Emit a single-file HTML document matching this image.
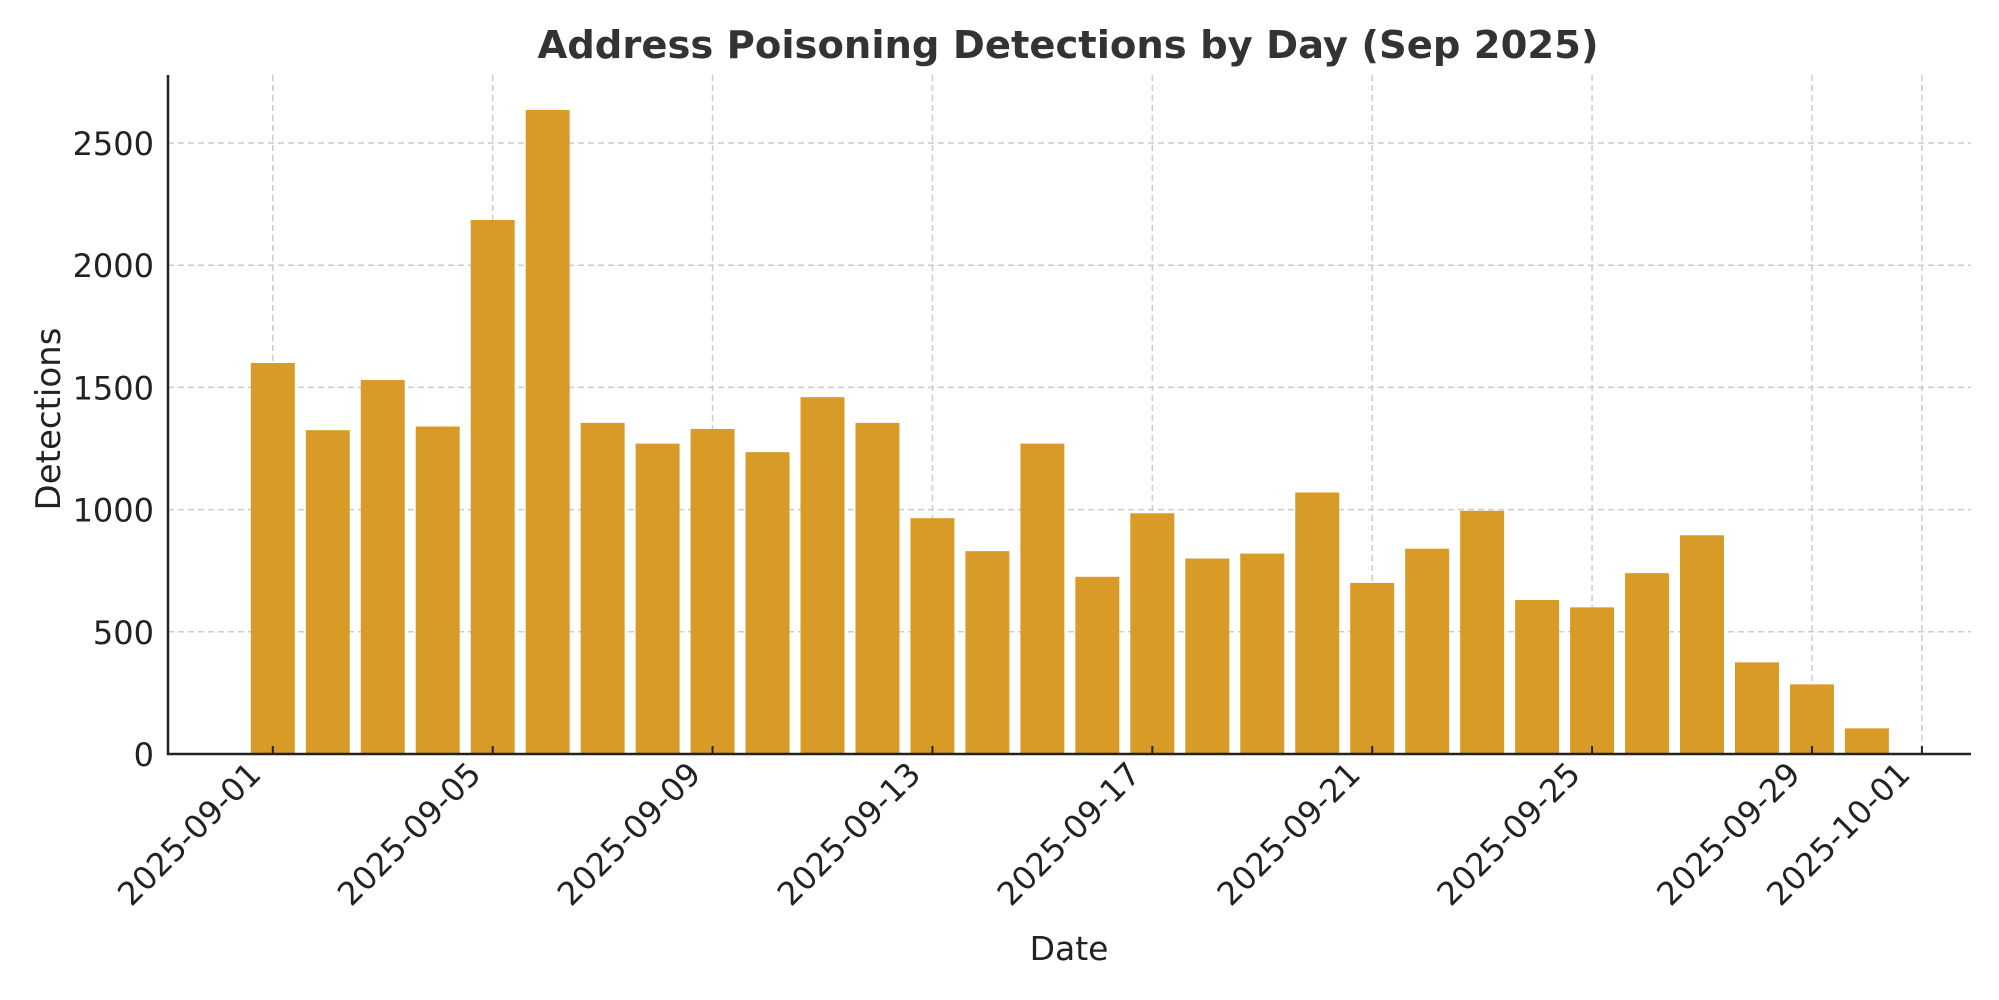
<!DOCTYPE html>
<html><head><meta charset="utf-8"><style>
html,body{margin:0;padding:0;background:#fff;}
svg{display:block;font-family:"DejaVu Sans","Liberation Sans",sans-serif;}
</style></head><body>
<svg id="chart" width="1999" height="1000" viewBox="0 0 1999 1000" xmlns="http://www.w3.org/2000/svg">
<text x="1068" y="58" text-anchor="middle" font-size="38.5" font-weight="bold" fill="#333">Address Poisoning Detections by Day (Sep 2025)</text>
<g id="grid"></g><g id="bars"></g><g id="axes"></g>
<text transform="translate(60,419) rotate(-90)" text-anchor="middle" font-size="34" fill="#222">Detections</text>
<text x="1069" y="960" text-anchor="middle" font-size="33" fill="#222">Date</text>
</svg>
<script>
const days = ["01","02","03","04","05","06","07","08","09","10","11","12","13","14","15","16","17","18","19","20","21","22","23","24","25","26","27","28","29","30"];
const detections = [1600,1325,1530,1340,2185,2635,1355,1270,1330,1235,1460,1355,965,830,1270,725,985,800,820,1070,700,840,995,630,600,740,895,375,285,105];
const yTicks = [0,500,1000,1500,2000,2500];
const xTickDayIdx = [0,4,8,12,16,20,24,28,30];
const xTickLabels = ["2025-09-01","2025-09-05","2025-09-09","2025-09-13","2025-09-17","2025-09-21","2025-09-25","2025-09-29","2025-10-01"];

const NS="http://www.w3.org/2000/svg";
const L=168,R=1971,T=75,B=754;
const x0=272.8, dx=54.97;
const xs=i=>x0+i*dx;
const ys=v=>B-v*(B-143)/2500;
const mk=(t,a,p)=>{const e=document.createElementNS(NS,t);for(const k in a)e.setAttribute(k,a[k]);p.appendChild(e);return e;};
const grid=document.getElementById('grid'),bars=document.getElementById('bars'),axes=document.getElementById('axes');
yTicks.forEach(v=>{
  if(v>0){const g=mk('line',{x1:L,x2:R,y1:ys(v),y2:ys(v),stroke:'#ccc','stroke-width':1.5,'stroke-dasharray':'6,4'},grid);
  
  }
  const t=mk('text',{x:L-14,y:ys(v)+12,'text-anchor':'end','font-size':32,fill:'#222'},axes);
  t.textContent=v;
  
  
});
xTickDayIdx.forEach((d,i)=>{
  const x=xs(d);
  const g=mk('line',{x1:x,x2:x,y1:T,y2:B,stroke:'#ccc','stroke-width':1.5,'stroke-dasharray':'6,4'},grid);
  
  
  const tk=mk('line',{x1:x,x2:x,y1:B,y2:B-8,stroke:'#222','stroke-width':2},axes);
  
  
  const t=mk('text',{transform:`translate(${x-10},${B+22}) rotate(-45)`,'text-anchor':'end','font-size':32,fill:'#222'},axes);
  t.textContent=xTickLabels[i];
  
  
});
detections.forEach((v,i)=>{
  const w=0.8*dx;
  const r=mk('rect',{x:xs(i)-w/2,y:ys(v),width:w,height:B-ys(v),fill:'#D89B27'},bars);
  
  
});
const a1=mk('line',{x1:L,x2:L,y1:T,y2:B+1,stroke:'#222','stroke-width':2.5},axes);


const a2=mk('line',{x1:L-1,x2:R,y1:B,y2:B,stroke:'#222','stroke-width':2.5},axes);


</script>
</body></html>
